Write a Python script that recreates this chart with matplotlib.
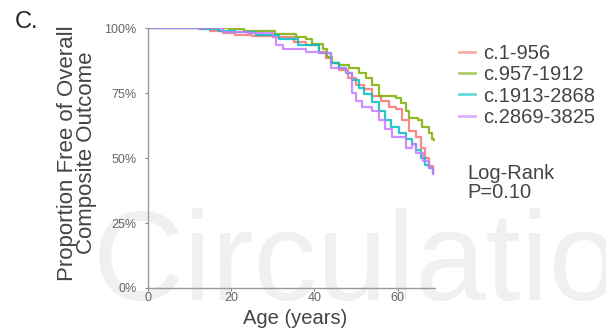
import matplotlib.pyplot as plt
import numpy

plt.rcParams['font.family'] = ['Liberation Sans', 'DejaVu Sans']

# Kaplan-Meier style step curves (age in years, proportion free)
red_age = [0, 12.4, 15, 18, 21, 25, 30, 35, 38, 41, 42.8, 44, 46, 48, 50, 52, 53.8, 56, 58, 59.5, 61, 62.7, 64.3, 65.5, 66.5, 67.5, 68.5]
red_surv = [1.0, 0.995, 0.99, 0.98, 0.975, 0.97, 0.966, 0.947, 0.934, 0.908, 0.884, 0.865, 0.84, 0.81, 0.78, 0.765, 0.74, 0.72, 0.695, 0.69, 0.645, 0.606, 0.58, 0.54, 0.50, 0.47, 0.45]

green_age = [0, 19.6, 23, 30.5, 35.7, 38, 39.5, 42, 43, 44.3, 46, 48.3, 50.7, 52.4, 53.8, 55.5, 59.5, 60.8, 62, 62.7, 65, 65.8, 67.5, 68.2, 68.8]
green_surv = [1.0, 0.996, 0.988, 0.977, 0.966, 0.958, 0.94, 0.92, 0.89, 0.865, 0.857, 0.845, 0.826, 0.807, 0.78, 0.74, 0.73, 0.71, 0.68, 0.656, 0.645, 0.618, 0.595, 0.575, 0.57]

cyan_age = [0, 13, 17, 21, 26, 31.6, 36, 41, 44, 46, 47.6, 49, 50.7, 52, 53.8, 55.5, 57, 58.5, 60.3, 62, 63.4, 64.5, 65.5, 66.5, 67.5, 68.5]
cyan_surv = [1.0, 0.995, 0.99, 0.985, 0.975, 0.96, 0.934, 0.903, 0.865, 0.845, 0.826, 0.80, 0.77, 0.745, 0.714, 0.68, 0.645, 0.62, 0.595, 0.575, 0.556, 0.53, 0.50, 0.475, 0.46, 0.444]

purple_age = [0, 18, 24, 30, 30.8, 32.5, 38, 41, 44, 47.6, 49, 50, 51.5, 53.8, 55.5, 57, 58.6, 62, 63.4, 64.5, 66, 67.5, 68.5]
purple_surv = [1.0, 0.986, 0.98, 0.966, 0.934, 0.92, 0.908, 0.903, 0.845, 0.826, 0.75, 0.72, 0.695, 0.683, 0.645, 0.61, 0.58, 0.54, 0.556, 0.52, 0.49, 0.463, 0.44]

labels = ["c.1-956", "c.957-1912", "c.1913-2868", "c.2869-3825"]
colors = ["#F8766D", "#7CAE00", "#00BFC4", "#C77CFF"]

fig = plt.figure(figsize=(6.06, 3.31), dpi=100)
ax = fig.add_axes([0.244, 0.13, 0.474, 0.785])

# journal watermark, kept behind the axes
fig.text(0.153, 0.094, "Circulation", fontsize=91, color="#f0f0f0", zorder=-1)

series = [(red_age, red_surv), (green_age, green_surv), (cyan_age, cyan_surv), (purple_age, purple_surv)]
for (x, y), lab, col in zip(series, labels, colors):
    ax.step(x, y, where="post", color=col, lw=1.6, label=lab, alpha=0.85)

ax.set_xlim(0, 69)
ax.set_ylim(0, 1)
ax.patch.set_alpha(0)
ax.set_xticks([0, 20, 40, 60])
ax.set_yticks([0, 0.25, 0.5, 0.75, 1.0])
ax.set_yticklabels(["0%", "25%", "50%", "75%", "100%"])
ax.tick_params(labelsize=9, colors="#666666", length=2, width=0.6, pad=6)
ax.tick_params(axis="x", pad=1)
for s in ["top", "right"]:
    ax.spines[s].set_visible(False)
for s in ["left", "bottom"]:
    ax.spines[s].set_color("#999999")
    ax.spines[s].set_linewidth(1.0)

fig.text(295 / 606, 1 - 318 / 331, "Age (years)", fontsize=14.5, color="#444444",
         ha="center", va="center")
fig.text(77 / 606, 1 - 153 / 331, "Proportion Free of Overall\nComposite Outcome", fontsize=16,
         color="#444444", rotation=90, ha="center", va="center", multialignment="center",
         linespacing=0.9)

leg = fig.legend(loc="upper left", bbox_to_anchor=(0.757, 0.868), frameon=False, fontsize=14.5,
                 handlelength=0.8, handletextpad=0.4, labelspacing=0.12, borderpad=0,
                 borderaxespad=0)
for t in leg.get_texts():
    t.set_color("#444444")
for h in leg.get_lines():
    h.set_alpha(0.6)
    h.set_linewidth(2)

fig.text(467 / 606, 1 - 164 / 331, "Log-Rank\nP=0.10", fontsize=14.5, color="#444444",
         linespacing=1.0, va="top")
fig.text(0.025, 0.915, "C.", fontsize=17, color="#222222")

fig.savefig("out.png", dpi=100)
